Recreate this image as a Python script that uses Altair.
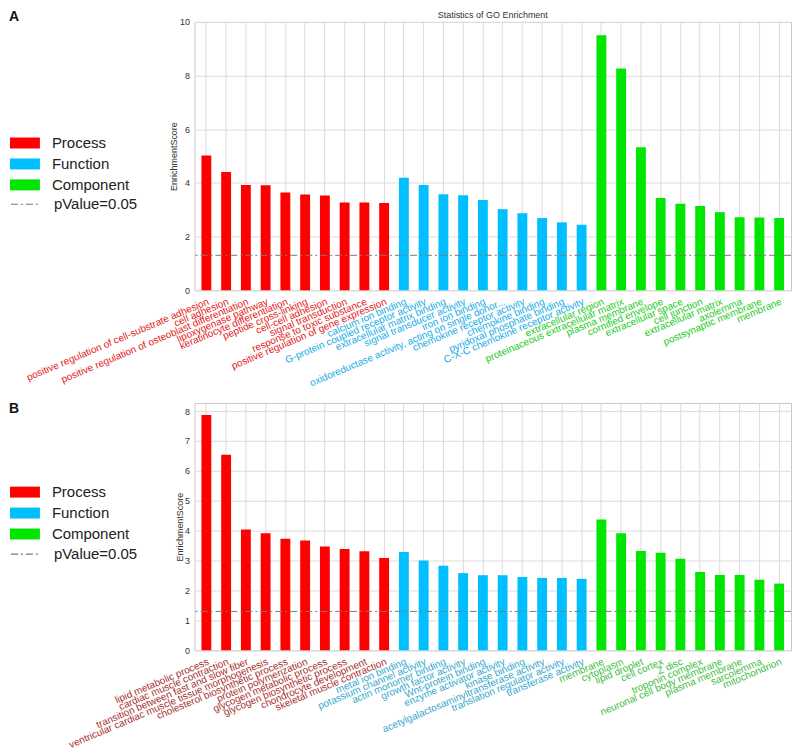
import json
import altair as alt
import pandas as pd

FONT = "Liberation Sans, Arial, Helvetica, sans-serif"

categories = ["Process", "Function", "Component"]
bar_colors = ["#ff0000", "#00bfff", "#00e600"]
p_threshold = 1.301  # -log10(0.05)
p_label = "pValue=0.05"
chart_title = "Statistics of GO Enrichment"

# ---------------- Panel A ----------------
a_process_terms = [
    "positive regulation of cell-substrate adhesion",
    "cell adhesion",
    "positive regulation of osteoblast differentiation",
    "lipoxygenase pathway",
    "keratinocyte differentiation",
    "peptide cross-linking",
    "cell-cell adhesion",
    "signal transduction",
    "response to toxic substance",
    "positive regulation of gene expression",
]
a_process_scores = [5.02, 4.41, 3.92, 3.91, 3.64, 3.57, 3.53, 3.27, 3.27, 3.25]

a_function_terms = [
    "calcium ion binding",
    "G-protein coupled receptor activity",
    "extracellular matrix binding",
    "signal transducer activity",
    "iron ion binding",
    "oxidoreductase activity, acting on single donor...",
    "chemokine receptor activity",
    "chemokine binding",
    "pyridoxal phosphate binding",
    "C-X-C chemokine receptor activity",
]
a_function_scores = [4.19, 3.92, 3.58, 3.54, 3.36, 3.02, 2.87, 2.69, 2.53, 2.44]

a_component_terms = [
    "extracellular region",
    "proteinaceous extracellular matrix",
    "plasma membrane",
    "cornified envelope",
    "extracellular space",
    "cell junction",
    "extracellular matrix",
    "axolemma",
    "postsynaptic membrane",
    "membrane",
]
a_component_scores = [9.50, 8.26, 5.33, 3.44, 3.22, 3.14, 2.91, 2.72, 2.71, 2.69]

# ---------------- Panel B ----------------
b_process_terms = [
    "lipid metabolic process",
    "cardiac muscle contraction",
    "transition between fast and slow fiber",
    "ventricular cardiac muscle tissue morphogenesis",
    "cholesterol biosynthetic process",
    "protein polymerization",
    "glycogen metabolic process",
    "glycogen biosynthetic process",
    "chondrocyte development",
    "skeletal muscle contraction",
]
b_process_scores = [7.87, 6.54, 4.04, 3.91, 3.73, 3.67, 3.47, 3.39, 3.31, 3.09]

b_function_terms = [
    "metal ion binding",
    "potassium channel activity",
    "actin monomer binding",
    "growth factor activity",
    "Wnt-protein binding",
    "enzyme activator activity",
    "kinase binding",
    "acetylgalactosaminyltransferase activity",
    "translation regulator activity",
    "transferase activity",
]
b_function_scores = [3.29, 3.00, 2.83, 2.58, 2.51, 2.51, 2.45, 2.42, 2.42, 2.39]

b_component_terms = [
    "membrane",
    "cytoplasm",
    "lipid droplet",
    "cell cortex",
    "Z disc",
    "troponin complex",
    "neuronal cell body membrane",
    "plasma membrane",
    "sarcolemma",
    "mitochondrion",
]
b_component_scores = [4.37, 3.91, 3.32, 3.26, 3.06, 2.62, 2.52, 2.52, 2.36, 2.23]

a_label_colors = ["#e41a1a", "#16ade6", "#22cc22"]
b_label_colors = ["#a83030", "#35a8cc", "#3dbd3d"]

PLOT_W = 598


def build(term_lists, score_lists):
    rows = []
    for cat, terms, scores in zip(categories, term_lists, score_lists):
        for t, s in zip(terms, scores):
            rows.append({"term": t, "score": s, "category": cat})
    return pd.DataFrame(rows)


# wide, flat rectangle legend swatch (about 30 x 11 px at symbolSize 676)
RECT = "M-1.154,-0.423L1.154,-0.423L1.154,0.423L-1.154,0.423Z"


def panel(term_lists, score_lists, label_colors, y_max, y_ticks, height,
          letter, letter_y, leg_y, dash_leg_y, title_pad, title=None):
    df = build(term_lists, score_lists)
    order = list(df["term"])
    label_color = {
        "condition": [
            {"test": "indexof(%s, datum.value) >= 0" % json.dumps(term_lists[1]),
             "value": label_colors[1]},
            {"test": "indexof(%s, datum.value) >= 0" % json.dumps(term_lists[2]),
             "value": label_colors[2]},
        ],
        "value": label_colors[0],
    }
    y_scale = alt.Scale(domain=[0, y_max], nice=False, zero=True)
    y_axis = alt.Axis(
        values=y_ticks, ticks=False, domain=False, grid=True,
        gridColor="#dcdcdc", labelFontSize=9, labelColor="#333",
        labelPadding=5, labelOverlap=False, titleFontSize=9,
        titleFontWeight="normal", titleColor="#333",
        titlePadding=title_pad,
    )
    bars = alt.Chart(df).mark_bar().encode(
        x=alt.X(
            "term:N", sort=order, title=None,
            scale=alt.Scale(paddingInner=0.5, paddingOuter=0.35),
            axis=alt.Axis(
                labelAngle=-23, labelAlign="right", labelBaseline="top",
                labelPadding=6, labelFontSize=10, labelLimit=400,
                labelColor=label_color, ticks=False, domain=False,
                grid=True, gridColor="#dcdcdc", bandPosition=0.5,
            ),
        ),
        y=alt.Y("score:Q", title="EnrichmentScore", scale=y_scale, axis=y_axis),
        color=alt.Color(
            "category:N",
            scale=alt.Scale(domain=categories, range=bar_colors),
            legend=alt.Legend(
                title=None, orient="none", legendX=-183, legendY=leg_y,
                symbolType=RECT, symbolSize=676, symbolStrokeWidth=0,
                symbolOpacity=1, labelFontSize=15, labelColor="#222",
                labelOffset=14, rowPadding=0,
            ),
        ),
    )
    rule_df = pd.DataFrame({"y": [p_threshold], "lab": [p_label]})
    rule = alt.Chart(rule_df).mark_rule(color="#7a7a7a", strokeWidth=1).encode(
        y=alt.Y("y:Q", title="EnrichmentScore", scale=y_scale, axis=y_axis),
        strokeDash=alt.StrokeDash(
            "lab:N",
            scale=alt.Scale(domain=[p_label], range=[[7, 3, 2, 3]]),
            legend=alt.Legend(
                title=None, orient="none", legendX=-185, legendY=dash_leg_y,
                symbolType="stroke", symbolSize=900, symbolStrokeColor="#7a7a7a",
                symbolStrokeWidth=1.2, labelFontSize=15, labelColor="#222",
                labelOffset=12,
            ),
        ),
    )
    letter_df = pd.DataFrame({"t": [letter]})
    let = alt.Chart(letter_df).mark_text(
        fontSize=14, fontWeight="bold", align="left", baseline="middle",
        color="#111",
    ).encode(text="t:N", x=alt.value(-186), y=alt.value(letter_y))
    layers = [bars, rule, let]
    if title:
        title_df = pd.DataFrame({"t": [title]})
        layers.append(
            alt.Chart(title_df).mark_text(
                fontSize=9, color="#333", align="center", baseline="middle",
            ).encode(text="t:N", x=alt.value(PLOT_W / 2), y=alt.value(-7))
        )
    return alt.layer(*layers).properties(width=PLOT_W, height=height)


panel_a = panel(
    [a_process_terms, a_function_terms, a_component_terms],
    [a_process_scores, a_function_scores, a_component_scores],
    a_label_colors, 10, [0, 2, 4, 6, 8, 10], 269,
    "A", -5, 108.4, 166.8, 1, title=chart_title,
)
panel_b = panel(
    [b_process_terms, b_function_terms, b_component_terms],
    [b_process_scores, b_function_scores, b_component_scores],
    b_label_colors, 8.27, [0, 1, 2, 3, 4, 5, 6, 7, 8], 248,
    "B", 6, 76.4, 135.5, 0,
)

chart = alt.vconcat(panel_a, panel_b, spacing=113, bounds="flush").resolve_scale(
    x="independent", y="independent", color="independent", strokeDash="independent"
).resolve_legend(color="independent", strokeDash="independent").properties(
    padding=0
).configure(font=FONT).configure_view(stroke="#c8c8c8", strokeWidth=1)

chart.save("out.html", embed_options={"renderer": "svg", "actions": False})
